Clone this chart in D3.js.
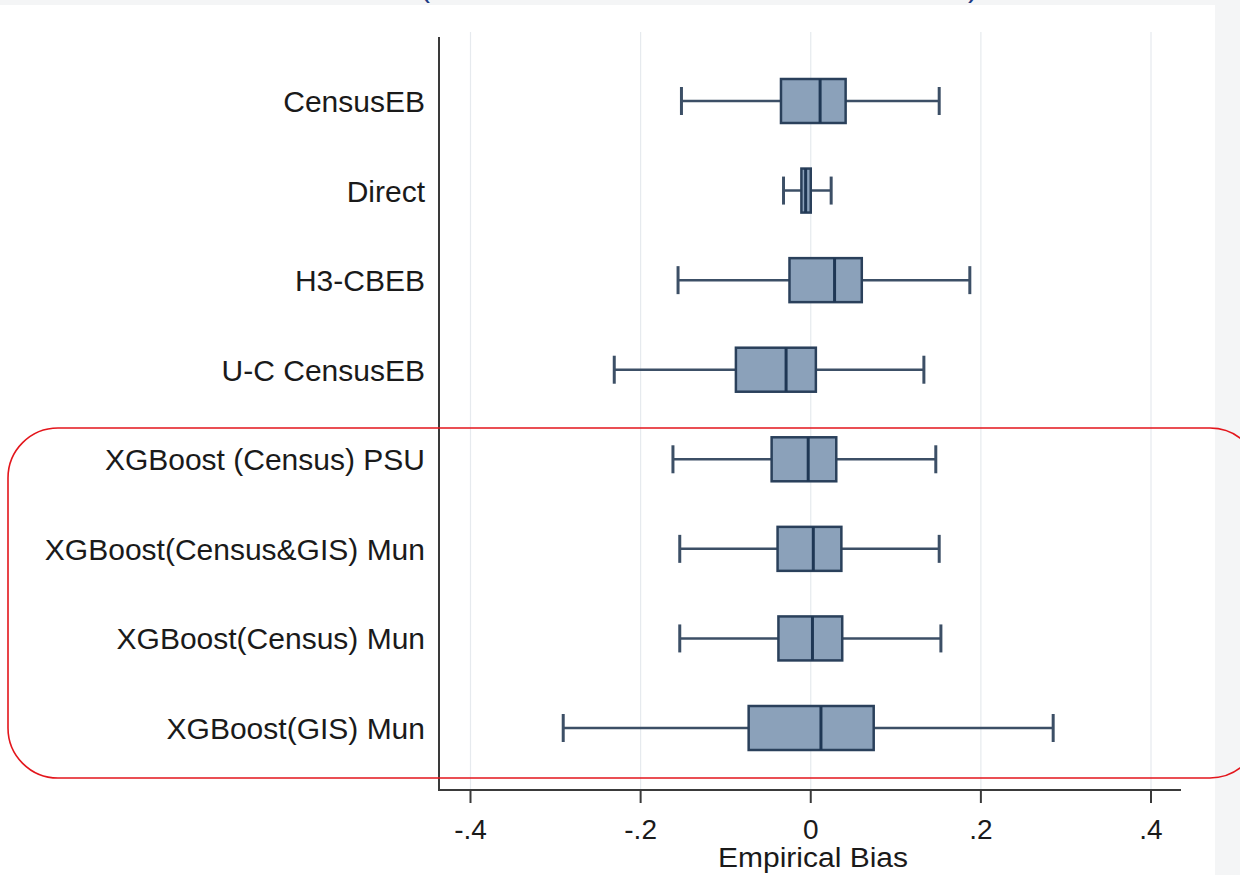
<!DOCTYPE html>
<html>
<head>
<meta charset="utf-8">
<script src="https://cdn.jsdelivr.net/npm/d3@7"></script>
<style>
  html, body { margin: 0; padding: 0; background: #f4f5f6; }
  svg { display: block; }
  .cat-label, .tick-label, .axis-title { font-family: "Liberation Sans", Arial, sans-serif; fill: #1a1a1a; }
</style>
</head>
<body>
<div class="js-chart"></div>
<script>
// Box plot data
var categories = [
  'CensusEB',
  'Direct',
  'H3-CBEB',
  'U-C CensusEB',
  'XGBoost (Census) PSU',
  'XGBoost(Census&GIS) Mun',
  'XGBoost(Census) Mun',
  'XGBoost(GIS) Mun'
];
var whiskerLow  = [-0.152, -0.032, -0.156, -0.231, -0.162, -0.154, -0.154, -0.291];
var q1Values    = [-0.035, -0.011, -0.025, -0.088, -0.046, -0.039, -0.038, -0.073];
var medianVals  = [ 0.011, -0.006,  0.028, -0.029, -0.003,  0.003,  0.002,  0.012];
var q3Values    = [ 0.041,  0.000,  0.060,  0.006,  0.030,  0.036,  0.037,  0.074];
var whiskerHigh = [ 0.151,  0.024,  0.187,  0.133,  0.147,  0.151,  0.153,  0.285];
var xTicks = [-0.4, -0.2, 0, 0.2, 0.4];
var xTickLabels = ['-.4', '-.2', '0', '.2', '.4'];
var xTitle = 'Empirical Bias';

var width = 1240;
var height = 875;

var boxFill = '#8ba1ba';
var boxStroke = '#2a405b';
var whiskerStroke = '#3c4f66';

var svg = d3.select('.js-chart').append('svg')
  .attr('width', width)
  .attr('height', height);

// paper area (the screenshot has a faint grey frame top and right)
svg.append('rect')
  .attr('x', 0).attr('y', 5)
  .attr('width', 1215).attr('height', height - 5)
  .attr('fill', '#ffffff');

// cut-off title, only the brackets show
svg.append('text')
  .attr('x', 420).attr('y', -3)
  .attr('font-family', 'Liberation Sans, Arial, sans-serif')
  .attr('font-size', 30)
  .attr('fill', '#1d3b84')
  .text('(');
svg.append('text')
  .attr('x', 968).attr('y', -3)
  .attr('font-family', 'Liberation Sans, Arial, sans-serif')
  .attr('font-size', 30)
  .attr('fill', '#1d3b84')
  .text(')');

var axisLeft = 439;
var axisRight = 1181;
var axisBottom = 790;
var axisTop = 37;

var x = d3.scaleLinear()
  .domain([-0.4, 0.4])
  .range([470.5, 1151]);

var y = d3.scalePoint()
  .domain(categories)
  .range([101, 728]);

var boxHeight = 44;
var capHeight = 28;

// grid lines
svg.append('g').selectAll('line')
  .data(xTicks)
  .enter().append('line')
  .attr('x1', function(d) { return x(d); })
  .attr('x2', function(d) { return x(d); })
  .attr('y1', 32)
  .attr('y2', axisBottom)
  .attr('stroke', '#e6eaee')
  .attr('stroke-width', 1.2);

// axes lines
svg.append('line')
  .attr('x1', axisLeft).attr('x2', axisLeft)
  .attr('y1', axisTop).attr('y2', axisBottom + 1)
  .attr('stroke', '#3a3a3a').attr('stroke-width', 2);

svg.append('line')
  .attr('x1', axisLeft).attr('x2', axisRight)
  .attr('y1', axisBottom).attr('y2', axisBottom)
  .attr('stroke', '#3a3a3a').attr('stroke-width', 2);

// x ticks + labels
var tickG = svg.append('g').selectAll('g')
  .data(xTicks)
  .enter().append('g')
  .attr('transform', function(d) { return 'translate(' + x(d) + ',' + axisBottom + ')'; });

tickG.append('line')
  .attr('y1', 0).attr('y2', 13)
  .attr('stroke', '#3a3a3a').attr('stroke-width', 2);

tickG.append('text')
  .classed('tick-label', true)
  .attr('y', 49)
  .attr('text-anchor', 'middle')
  .attr('font-size', 28)
  .text(function(d, i) { return xTickLabels[i]; });

svg.append('text')
  .classed('axis-title', true)
  .attr('x', 718)
  .attr('y', 867)
  .attr('font-size', 27)
  .attr('textLength', 190)
  .attr('lengthAdjust', 'spacingAndGlyphs')
  .text(xTitle);

// category labels
svg.append('g').selectAll('text')
  .data(categories)
  .enter().append('text')
  .classed('cat-label', true)
  .attr('x', 425)
  .attr('y', function(d) { return y(d) + 11; })
  .attr('text-anchor', 'end')
  .attr('font-size', 30)
  .text(function(d) { return d; });

// boxes
var rows = svg.append('g').selectAll('g')
  .data(categories)
  .enter().append('g')
  .attr('transform', function(d) { return 'translate(0,' + y(d) + ')'; });

rows.append('line')
  .attr('x1', function(d, i) { return x(whiskerLow[i]); })
  .attr('x2', function(d, i) { return x(whiskerHigh[i]); })
  .attr('y1', 0).attr('y2', 0)
  .attr('stroke', whiskerStroke).attr('stroke-width', 2.5);

rows.append('line')
  .attr('x1', function(d, i) { return x(whiskerLow[i]); })
  .attr('x2', function(d, i) { return x(whiskerLow[i]); })
  .attr('y1', -capHeight / 2).attr('y2', capHeight / 2)
  .attr('stroke', whiskerStroke).attr('stroke-width', 3);

rows.append('line')
  .attr('x1', function(d, i) { return x(whiskerHigh[i]); })
  .attr('x2', function(d, i) { return x(whiskerHigh[i]); })
  .attr('y1', -capHeight / 2).attr('y2', capHeight / 2)
  .attr('stroke', whiskerStroke).attr('stroke-width', 3);

rows.append('rect')
  .attr('x', function(d, i) { return x(q1Values[i]); })
  .attr('y', -boxHeight / 2)
  .attr('width', function(d, i) { return x(q3Values[i]) - x(q1Values[i]); })
  .attr('height', boxHeight)
  .attr('fill', boxFill)
  .attr('stroke', boxStroke)
  .attr('stroke-width', 2.5);

rows.append('line')
  .attr('x1', function(d, i) { return x(medianVals[i]); })
  .attr('x2', function(d, i) { return x(medianVals[i]); })
  .attr('y1', -boxHeight / 2).attr('y2', boxHeight / 2)
  .attr('stroke', '#1f3754').attr('stroke-width', 3);

// red highlight frame round the XGBoost rows
svg.append('rect')
  .attr('x', 8).attr('y', 428)
  .attr('width', 1252).attr('height', 350)
  .attr('rx', 50).attr('ry', 50)
  .attr('fill', 'none')
  .attr('stroke', '#e3161c')
  .attr('stroke-width', 1.6);
</script>
</body>
</html>
